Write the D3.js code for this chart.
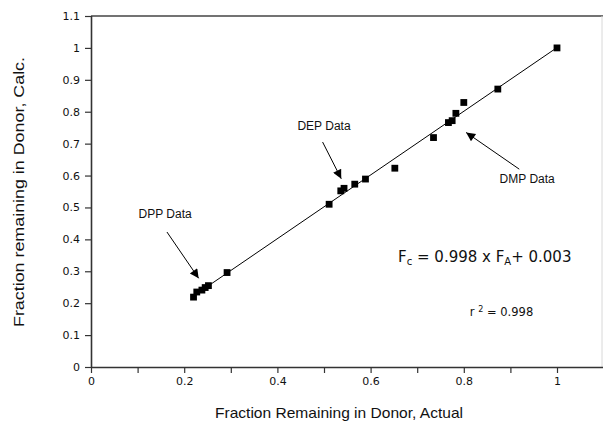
<!DOCTYPE html>
<html>
<head>
<meta charset="utf-8">
<script src="https://cdn.jsdelivr.net/npm/d3@7"></script>
<style>
  html, body { margin: 0; padding: 0; background: #fff; }
  svg { display: block; font-family: "Liberation Sans", Arial, sans-serif; }
</style>
</head>
<body>
<svg id="chart" width="603" height="428"></svg>
<script>
// Fraction remaining in donor: actual (x) vs calculated (y)
const actual = [0.220, 0.227, 0.238, 0.245, 0.252, 0.292,
                0.511, 0.536, 0.543, 0.566, 0.589,
                0.652, 0.735, 0.767, 0.775, 0.783, 0.800, 0.873, 1.000];
const calc   = [0.219, 0.235, 0.241, 0.249, 0.255, 0.296,
                0.510, 0.552, 0.560, 0.573, 0.589,
                0.623, 0.719, 0.766, 0.772, 0.795, 0.829, 0.871, 1.000];

// Regression fit
const slope = 0.998;
const intercept = 0.003;
const fitRange = [0.219, 1.0];

const xTicks = [0, 0.1, 0.2, 0.3, 0.4, 0.5, 0.6, 0.7, 0.8, 0.9, 1.0, 1.1];
const xTickLabels = ["0", "", "0.2", "", "0.4", "", "0.6", "", "0.8", "", "1", ""];
const yTicks = [0, 0.1, 0.2, 0.3, 0.4, 0.5, 0.6, 0.7, 0.8, 0.9, 1.0, 1.1];
const yTickLabels = ["0", "0.1", "0.2", "0.3", "0.4", "0.5", "0.6", "0.7", "0.8", "0.9", "1", "1.1"];

// Annotations: label text, label anchor, arrow tail, arrow head (data units)
const annotations = [
  { text: "DPP Data", at: [0.159, 0.480], from: [0.163, 0.423], to: [0.231, 0.278] },
  { text: "DEP Data", at: [0.500, 0.755], from: [0.497, 0.705], to: [0.537, 0.590] },
  { text: "DMP Data", at: [0.936, 0.589], from: [0.919, 0.620], to: [0.805, 0.735] }
];

const svg = d3.select("#chart");
const x = d3.scaleLinear().domain([0, 1.1]).range([91, 603.6]);
const y = d3.scaleLinear().domain([0, 1.1]).range([367, 16]);

svg.append("defs").append("marker")
  .attr("id", "head")
  .attr("viewBox", "0 0 10 10")
  .attr("refX", 10).attr("refY", 5)
  .attr("markerWidth", 14).attr("markerHeight", 9)
  .attr("markerUnits", "userSpaceOnUse")
  .attr("orient", "auto")
  .append("path").attr("d", "M0,0 L10,5 L0,10 Z").attr("fill", "#000");

// frame: top and right edges
svg.append("line").attr("x1", x(0)).attr("x2", 603).attr("y1", y(1.1)).attr("y2", y(1.1))
  .attr("stroke", "#444").attr("stroke-width", 1.6);
svg.append("line").attr("x1", 602).attr("x2", 602).attr("y1", y(1.1)).attr("y2", y(0))
  .attr("stroke", "#d8d8d8").attr("stroke-width", 1);

// axes
const xAxis = d3.axisBottom(x).tickValues(xTicks).tickSize(6).tickPadding(4)
  .tickFormat((d, i) => xTickLabels[i]);
const yAxis = d3.axisLeft(y).tickValues(yTicks).tickSize(6).tickPadding(5)
  .tickFormat((d, i) => yTickLabels[i]);

const gx = svg.append("g").attr("transform", `translate(0,${y(0)})`).call(xAxis);
const gy = svg.append("g").attr("transform", `translate(${x(0)},0)`).call(yAxis);
[gx, gy].forEach(g => {
  g.select(".domain").attr("stroke", "#333").attr("stroke-width", 1.6);
  g.selectAll(".tick line").attr("stroke", "#333").attr("stroke-width", 1.2);
  g.selectAll(".tick text").attr("fill", "#111").attr("font-size", 11)
    .attr("font-family", "DejaVu Sans, sans-serif");
});
gx.select(".domain").attr("d", `M${x(0)},0.5H603`);
gy.select(".domain").attr("d", `M0.5,${y(0)}V${y(1.1)}`);

// axis titles
svg.append("text").attr("x", 339).attr("y", 418).attr("text-anchor", "middle")
  .attr("font-size", 15).attr("fill", "#111")
  .attr("textLength", 248).attr("lengthAdjust", "spacingAndGlyphs")
  .text("Fraction Remaining in Donor, Actual");
svg.append("text").attr("transform", "translate(24,192) rotate(-90)")
  .attr("text-anchor", "middle").attr("font-size", 15).attr("fill", "#111")
  .attr("textLength", 270).attr("lengthAdjust", "spacingAndGlyphs")
  .text("Fraction remaining in Donor, Calc.");

// fitted line
svg.append("line")
  .attr("x1", x(fitRange[0])).attr("y1", y(slope * fitRange[0] + intercept))
  .attr("x2", x(fitRange[1])).attr("y2", y(slope * fitRange[1] + intercept))
  .attr("stroke", "#000").attr("stroke-width", 1);

// data squares
const sq = 6.8;
svg.append("g").selectAll("rect").data(actual).join("rect")
  .attr("x", (d) => x(d) - sq / 2)
  .attr("y", (d, i) => y(calc[i]) - sq / 2)
  .attr("width", sq).attr("height", sq).attr("fill", "#000");

// annotations
const ann = svg.append("g");
annotations.forEach(a => {
  ann.append("text").attr("x", x(a.at[0])).attr("y", y(a.at[1]))
    .attr("text-anchor", "middle").attr("dominant-baseline", "central")
    .attr("font-size", 12).attr("fill", "#111").text(a.text);
  ann.append("line")
    .attr("x1", x(a.from[0])).attr("y1", y(a.from[1]))
    .attr("x2", x(a.to[0])).attr("y2", y(a.to[1]))
    .attr("stroke", "#000").attr("stroke-width", 1)
    .attr("marker-end", "url(#head)");
});

// regression equation
const eq = svg.append("text").attr("x", x(0.659)).attr("y", y(0.345))
  .attr("dominant-baseline", "central").attr("font-size", 15).attr("fill", "#111")
  .attr("font-family", "DejaVu Sans, sans-serif");
eq.append("tspan").text("F");
eq.append("tspan").attr("font-size", 10).attr("dy", 4).text("c");
eq.append("tspan").attr("dy", -4).text(` = ${slope} x F`);
eq.append("tspan").attr("font-size", 10).attr("dy", 4).text("A");
eq.append("tspan").attr("dy", -4).text(`+ ${intercept.toFixed(3)}`);

const r2 = svg.append("text").attr("x", x(0.813)).attr("y", y(0.172))
  .attr("dominant-baseline", "central").attr("font-size", 11.5).attr("fill", "#111")
  .attr("font-family", "DejaVu Sans, sans-serif");
r2.append("tspan").text("r ");
r2.append("tspan").attr("font-size", 8).attr("dy", -3).text("2");
r2.append("tspan").attr("dy", 3).text(" = 0.998");
</script>
</body>
</html>
